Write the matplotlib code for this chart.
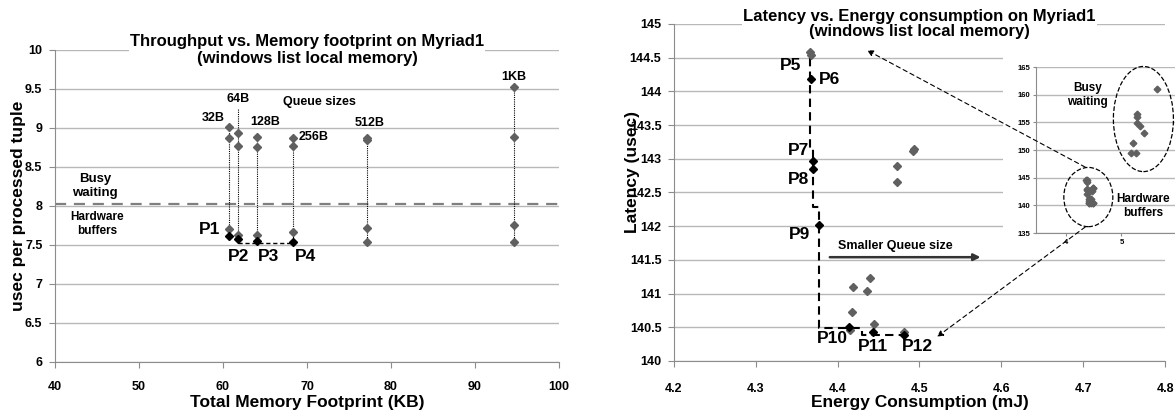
import matplotlib
matplotlib.use('Agg')
import matplotlib.pyplot as plt
import numpy as np
from matplotlib.patches import Ellipse, Rectangle, ConnectionPatch

plt.rcParams['font.family'] = ['Liberation Sans', 'DejaVu Sans']
plt.rcParams['font.weight'] = 'bold'
plt.rcParams['axes.labelweight'] = 'bold'

# ---- left chart: throughput vs memory footprint ----
queue_labels = ['32B', '64B', '128B', '256B', '512B', '1KB']
mem_kb = [60.7, 61.8, 64.0, 68.3, 77.1, 94.6]
busy_hi = [9.01, 8.93, 8.88, 8.87, 8.87, 9.52]
busy_lo = [8.87, 8.77, 8.76, 8.77, 8.84, 8.88]
hw_hi = [7.71, 7.63, 7.63, 7.67, 7.72, 7.76]
hw_lo = [7.62, 7.58, 7.55, 7.54, 7.54, 7.54]
hw_pareto = [True, True, True, True, False, False]
left_points = ['P1', 'P2', 'P3', 'P4']

# ---- right chart: latency vs energy ----
energy_gray = [4.366, 4.368, 4.4726, 4.4726, 4.4934, 4.4925, 4.419, 4.4396,
               4.436, 4.4176, 4.4445, 4.415, 4.481]
latency_gray = [144.58, 144.54, 142.89, 142.66, 143.15, 143.11, 141.10, 141.23,
                141.04, 140.73, 140.55, 140.46, 140.43]
energy_black = [4.3675, 4.370, 4.370, 4.377, 4.414, 4.443, 4.481]
latency_black = [144.18, 142.97, 142.85, 142.02, 140.50, 140.43, 140.39]
right_points = ['P5', 'P6', 'P7', 'P8', 'P9', 'P10', 'P11', 'P12']

# inset: busy waiting runs
busy_energy = [5.65, 5.29, 5.29, 5.29, 5.33, 5.41, 5.22, 5.18, 5.27]
busy_latency = [161.0, 156.5, 156.0, 154.9, 154.3, 153.0, 151.2, 149.4, 149.5]

GRAY = '#606060'
GRID = '#b8b8b8'
AXIS = '#8c8c8c'


def style_axes(ax, xticks, yticks, size=9):
    for s in ('top', 'right'):
        ax.spines[s].set_visible(False)
    for s in ('left', 'bottom'):
        ax.spines[s].set_color(AXIS)
    ax.yaxis.grid(True, color=GRID, lw=1)
    ax.set_axisbelow(True)
    ax.set_xticks(xticks)
    ax.set_xticklabels(['%g' % round(t, 3) for t in xticks], fontweight='bold', fontsize=size)
    ax.set_yticks(yticks)
    ax.set_yticklabels(['%g' % round(t, 3) for t in yticks], fontweight='bold', fontsize=size)
    ax.tick_params(colors=AXIS, labelcolor='black', length=4)


fig = plt.figure(figsize=(11.75, 4.17), dpi=100)

# ================= left =================
ax1 = fig.add_axes([0.0468, 0.1319, 0.4289, 0.7482])
style_axes(ax1, np.arange(40, 101, 10), np.arange(6, 10.01, 0.5))
ax1.set_xlim(40, 100)
ax1.set_ylim(6, 10)
ax1.tick_params(axis='x', pad=10)
ax1.tick_params(axis='y', pad=5)

ax1.axhline(8.02, color='#7f7f7f', lw=1.6, dashes=(5, 3.5), zorder=1)

tops = list(busy_hi)
tops[1] = 9.25  # 64B line runs up to its label
ax1.vlines(mem_kb, hw_lo, tops, colors='black', linestyles=(0, (1, 1)), lw=0.8, zorder=2)

ax1.plot(mem_kb, busy_hi, 'D', color=GRAY, ms=4, zorder=3)
ax1.plot(mem_kb, busy_lo, 'D', color=GRAY, ms=4, zorder=3)
ax1.plot(mem_kb, hw_hi, 'D', color=GRAY, ms=4, zorder=3)
for x, y, p in zip(mem_kb, hw_lo, hw_pareto):
    ax1.plot(x, y, 'D', color='black' if p else GRAY, ms=3.7 if p else 4, zorder=4)

# pareto front
ax1.plot([mem_kb[1], mem_kb[3]], [7.53, 7.53], color='black', lw=1, dashes=(3, 2), zorder=2)

qpos = [(58.8, 9.13, 'center'), (61.8, 9.37, 'center'), (65.0, 9.08, 'center'),
        (69.0, 8.88, 'left'), (77.5, 9.06, 'center'), (94.6, 9.66, 'center')]
for lab, (x, y, ha) in zip(queue_labels, qpos):
    ax1.text(x, y, lab, ha=ha, va='center', fontsize=9)
ax1.text(71.5, 9.33, 'Queue sizes', ha='center', va='center', fontsize=9)
ax1.text(44.8, 8.26, 'Busy\nwaiting', ha='center', va='center', fontsize=9.5)
ax1.text(45.0, 7.77, 'Hardware\nbuffers', ha='center', va='center', fontsize=8.5)

ppos = [(58.4, 7.70), (61.8, 7.35), (65.4, 7.35), (69.8, 7.35)]
for lab, (x, y) in zip(left_points, ppos):
    ax1.text(x, y, lab, ha='center', va='center', fontsize=12.5)

ax1.text(0.5, 1.0, 'Throughput vs. Memory footprint on Myriad1\n(windows list local memory)',
         transform=ax1.transAxes, ha='center', va='center', fontsize=12,
         bbox=dict(fc='white', ec='none', pad=1), zorder=6)
ax1.set_ylabel('usec per processed tuple', fontsize=12.5)
ax1.yaxis.set_label_coords(-0.058, 0.5)
ax1.set_xlabel('Total Memory Footprint (KB)', fontsize=12.5)
ax1.xaxis.set_label_coords(0.5, -0.105)

# ================= right =================
ax2 = fig.add_axes([0.5736, 0.1343, 0.4179, 0.8082])
style_axes(ax2, np.arange(4.2, 4.801, 0.1), np.arange(140, 145.01, 0.5))
ax2.set_xlim(4.2, 4.8)
ax2.set_ylim(140, 145)
ax2.tick_params(axis='x', pad=12)
ax2.tick_params(axis='y', pad=5)

ax2.plot(energy_gray, latency_gray, 'D', color=GRAY, ms=4.4, ls='none', zorder=3)
ax2.plot(energy_black, latency_black, 'D', color='black', ms=3.7, ls='none', zorder=4)

step_e = [4.3665, 4.3665, 4.370, 4.370, 4.377, 4.377, 4.430, 4.430, 4.478]
step_l = [144.50, 143.15, 143.15, 142.28, 142.28, 140.49, 140.49, 140.38, 140.38]
ax2.plot(step_e, step_l, color='black', lw=1.5, dashes=(4, 2.5), zorder=2)

ax2.annotate('', xy=(4.578, 141.54), xytext=(4.387, 141.54),
             arrowprops=dict(arrowstyle='-|>', color='#333333', lw=1.8, mutation_scale=10))
ax2.text(4.400, 141.70, 'Smaller Queue size', ha='left', va='center', fontsize=9)

rpos = [(4.343, 144.39, 'center'), (4.377, 144.17, 'left'), (4.352, 143.12, 'center'),
        (4.352, 142.69, 'center'), (4.353, 141.87, 'center'), (4.394, 140.34, 'center'),
        (4.443, 140.21, 'center'), (4.497, 140.21, 'center')]
for lab, (x, y, ha) in zip(right_points, rpos):
    ax2.text(x, y, lab, ha=ha, va='center', fontsize=12.5, zorder=5)

ax2.text(0.5, 1.0, 'Latency vs. Energy consumption on Myriad1\n(windows list local memory)',
         transform=ax2.transAxes, ha='center', va='center', fontsize=12, linespacing=1.05,
         bbox=dict(fc='white', ec='none', pad=1), zorder=6)
ax2.set_ylabel('Latency (usec)', fontsize=12.5)
ax2.yaxis.set_label_coords(-0.07, 0.56)
ax2.set_xlabel('Energy Consumption (mJ)', fontsize=12.5)
ax2.xaxis.set_label_coords(0.5, -0.1)

# white block behind the inset
fig.add_artist(Rectangle((0.8536, 0.3957), 0.1464, 0.4843, transform=fig.transFigure,
                         fc='white', ec='none', zorder=1))

# ================= inset =================
ax3 = fig.add_axes([1036 / 1175, 0.4412, 0.1336, 0.3981], zorder=3)
ax3.patch.set_alpha(0)
style_axes(ax3, [4, 5, 6], np.arange(135, 166, 5), size=5.5)
ax3.tick_params(length=2, pad=2)
ax3.set_xlim(3.45, 6.3)
ax3.set_ylim(135, 165)
ax3.plot(energy_gray + energy_black, latency_gray + latency_black, 'D', color=GRAY, ms=3.4, ls='none')
ax3.plot(busy_energy, busy_latency, 'D', color=GRAY, ms=3.4, ls='none')
ax3.add_patch(Ellipse((5.40, 155.6), 1.09, 19, fill=False, ls='--', ec='black', lw=0.9, clip_on=False))
ax3.add_patch(Ellipse((4.40, 141.5), 0.89, 10.7, fill=False, ls='--', ec='black', lw=0.9, clip_on=False))
ax3.text(4.38, 160.0, 'Busy\nwaiting', ha='center', va='center', fontsize=8.5)
ax3.text(5.40, 139.9, 'Hardware\nbuffers', ha='center', va='center', fontsize=8.5)

for a, b in [((4.345, 146.9), (4.436, 144.61)), ((4.345, 136.1), (4.5215, 140.36))]:
    con = ConnectionPatch(xyA=a, coordsA=ax3.transData, xyB=b, coordsB=ax2.transData,
                          arrowstyle='-|>', ls=(0, (4, 3)), lw=0.8, color='black',
                          mutation_scale=9, zorder=5)
    fig.add_artist(con)

fig.savefig('out.png', dpi=100)
